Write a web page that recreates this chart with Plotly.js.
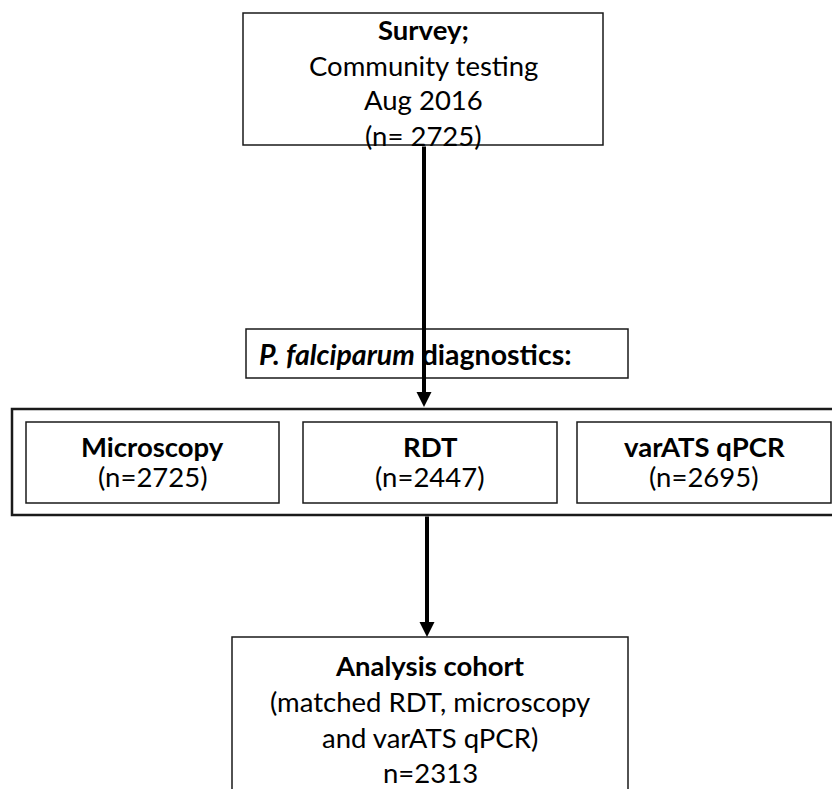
<!DOCTYPE html>
<html>
<head>
<meta charset="utf-8">
<script src="https://cdn.plot.ly/plotly-3.0.1.min.js"></script>
<style>html,body{margin:0;padding:0;background:#fff;}#chart{width:832px;height:789px;}</style>
</head>
<body>
<div id="chart"></div>
<script>
// ---- flowchart content ----
var surveyLines = ["<b>Survey;</b>", "Community testing", "Aug 2016", "(n= 2725)"];
var diagTitle = "<b><i>P. falciparum</i> diagnostics:</b>";
var testNames = ["Microscopy", "RDT", "varATS qPCR"];
var testCounts = [2725, 2447, 2695];
var cohortLines = ["<b>Analysis cohort</b>", "(matched RDT, microscopy", "and varATS qPCR)", "n=2313"];

// ---- layout geometry (pixel coordinates on a 832x789 canvas) ----
var FONT = "Lato, 'Open Sans', sans-serif";
var FS = 27.5;
var topBox = {x0: 243, x1: 603, y0: 13, y1: 145};
var topLineY = [29, 65, 99, 135];
var diagBox = {x0: 246, x1: 628, y0: 329, y1: 378};
var outerBox = {x0: 12, x1: 838, y0: 409, y1: 515};
var testBoxes = [
  {x0: 26, x1: 279, y0: 422, y1: 503},
  {x0: 303, x1: 557, y0: 422, y1: 503},
  {x0: 577, x1: 831, y0: 422, y1: 503}
];
var cohortBox = {x0: 232, x1: 628, y0: 637, y1: 800};
var cohortLineY = [665, 701, 737, 772];

function rect(b, w) {
  return {type: 'rect', xref: 'x', yref: 'y', x0: b.x0, x1: b.x1, y0: b.y0, y1: b.y1,
          line: {color: '#1a1a1a', width: w}, fillcolor: 'rgba(0,0,0,0)', layer: 'above'};
}
function txt(x, y, t, anchor, size) {
  return {x: x, y: y, xref: 'x', yref: 'y', text: t, showarrow: false,
          xanchor: anchor || 'center', yanchor: 'middle',
          font: {family: FONT, size: size || FS, color: '#000'}};
}
function arrow(x, yFrom, yTo) {
  return {x: x, y: yTo, ax: x, ay: yFrom, xref: 'x', yref: 'y', axref: 'x', ayref: 'y',
          text: '', showarrow: true, arrowhead: 2, arrowsize: 0.75, arrowwidth: 4,
          arrowcolor: '#000', standoff: 0, startstandoff: 0};
}

var shapes = [rect(topBox, 1.5), rect(diagBox, 1.5), rect(outerBox, 2.5)];
testBoxes.forEach(function (b) { shapes.push(rect(b, 1.5)); });
shapes.push(rect(cohortBox, 1.5));

var annotations = [];
surveyLines.forEach(function (t, i) { annotations.push(txt((topBox.x0 + topBox.x1) / 2, topLineY[i], t)); });
annotations.push(txt(257, (diagBox.y0 + diagBox.y1) / 2, diagTitle, 'left', 28.5));
testBoxes.forEach(function (b, i) {
  var cx = (b.x0 + b.x1) / 2;
  annotations.push(txt(cx, 446, '<b>' + testNames[i] + '</b>'));
  annotations.push(txt(cx, 476, '(n=' + testCounts[i] + ')'));
});
cohortLines.forEach(function (t, i) { annotations.push(txt((cohortBox.x0 + cohortBox.x1) / 2, cohortLineY[i], t)); });
annotations.push(arrow(424, topBox.y1, outerBox.y0 - 2));
annotations.push(arrow(427, outerBox.y1, cohortBox.y0));

var layout = {
  width: 832, height: 789,
  margin: {l: 0, r: 0, t: 0, b: 0, pad: 0},
  paper_bgcolor: '#fff', plot_bgcolor: '#fff',
  showlegend: false,
  xaxis: {range: [0, 832], visible: false, fixedrange: true},
  yaxis: {range: [789, 0], visible: false, fixedrange: true},
  shapes: shapes,
  annotations: annotations
};
Plotly.newPlot('chart', [{x: [], y: [], type: 'scatter', hoverinfo: 'skip'}], layout, {displayModeBar: false, staticPlot: true});
</script>
</body>
</html>
